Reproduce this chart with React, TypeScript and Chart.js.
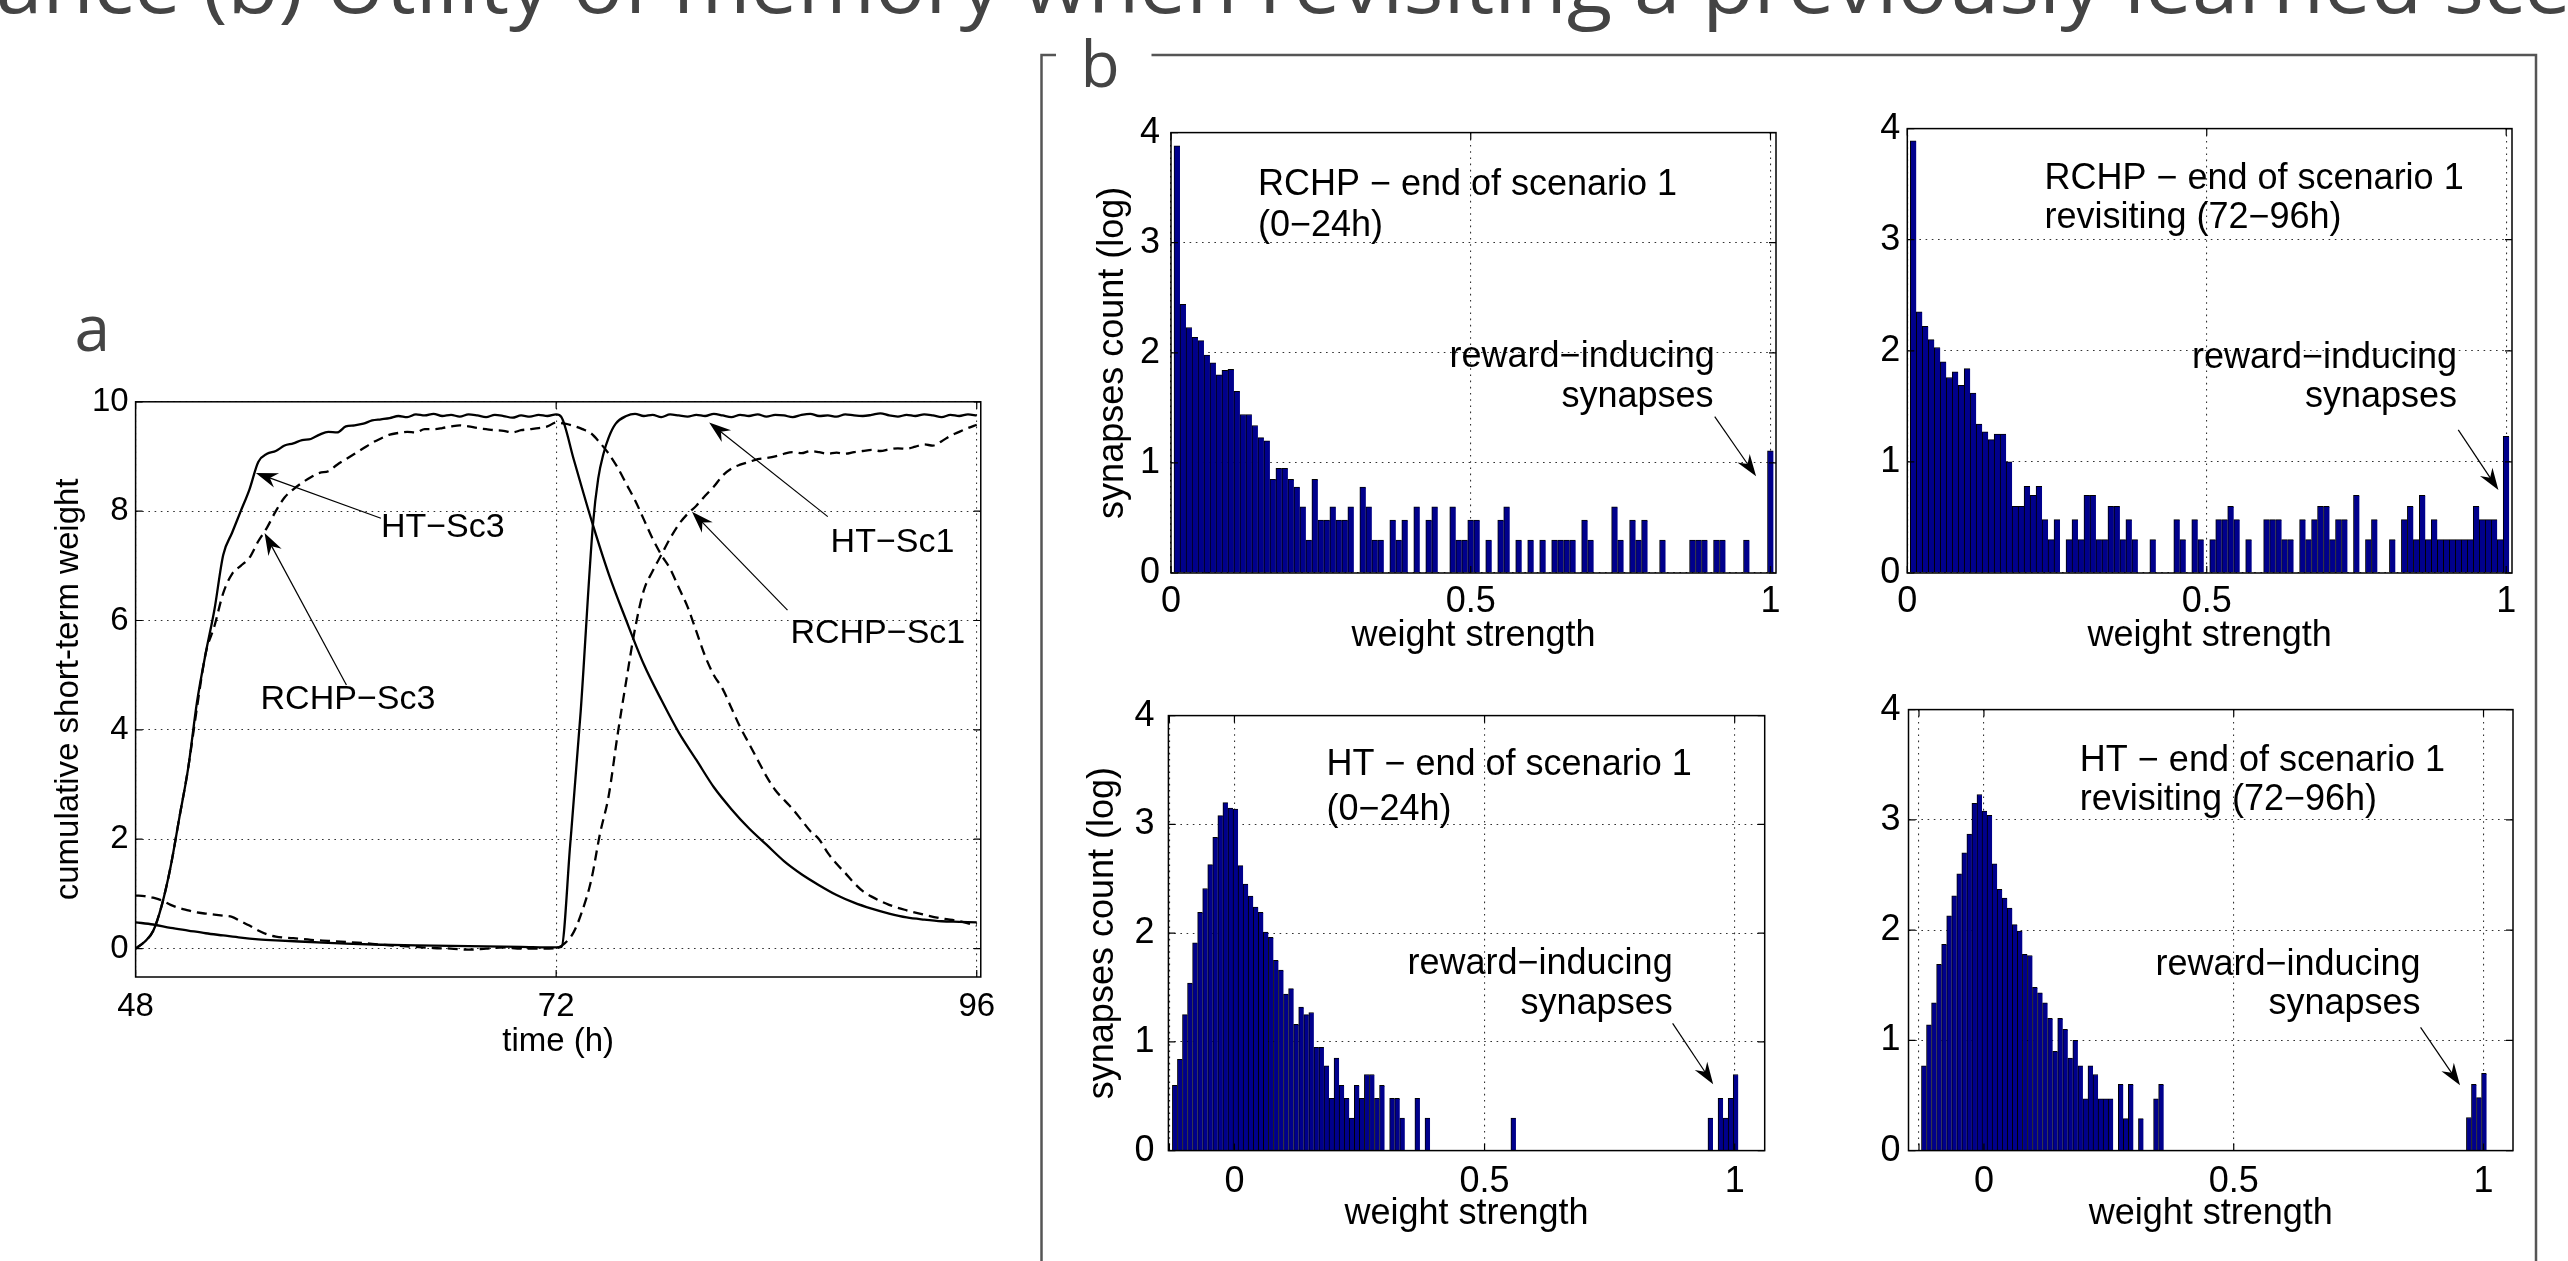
import React, { useEffect, useRef } from "react";
import { Chart, registerables } from "chart.js";

Chart.register(...registerables);

const AXIS_FONT = "'Liberation Sans', Arial, Helvetica, sans-serif";
const CAPTION_FONT = "'Open Sans', 'DejaVu Sans', sans-serif";
const GRID_COLOR = "#333333";
const BAR_FILL = "#00008c";

// ---------------- panel a : cumulative short-term weight ----------------
const timeTicks = [48, 72, 96];
const timeLabels = ["48", "72", "96"];
const weightTicks = [0, 2, 4, 6, 8, 10];
const weightLabels = ["0", "2", "4", "6", "8", "10"];

const htSc3 = [
  [48, 0], [48.5, 0.12], [49, 0.32], [49.5, 0.8], [50, 1.5], [50.5, 2.4], [51, 3.3], [51.5, 4.5],
  [52, 5.4], [52.5, 6.2], [53, 7.2], [53.5, 7.6], [54, 8.0], [54.5, 8.4], [55, 8.9], [55.5, 9.05],
  [56, 9.1], [56.5, 9.2], [57, 9.24], [57.5, 9.3], [58, 9.32], [58.5, 9.4], [59, 9.45], [59.5, 9.44],
  [60, 9.55], [60.5, 9.57], [61, 9.6], [61.5, 9.66], [62, 9.68], [62.5, 9.7], [63, 9.74], [63.5, 9.72],
  [64, 9.77], [64.5, 9.75], [65, 9.78], [65.5, 9.74], [66, 9.76], [66.5, 9.73], [67, 9.77], [67.5, 9.75],
  [68, 9.72], [68.5, 9.76], [69, 9.74], [69.5, 9.71], [70, 9.75], [70.5, 9.73], [71, 9.76], [71.5, 9.74],
  [72, 9.77], [72.3, 9.72], [73, 8.95], [74, 7.85], [75, 6.85], [76, 6.0], [77, 5.2], [78, 4.55],
  [79, 3.95], [80, 3.45], [81, 2.95], [82, 2.55], [83, 2.2], [84, 1.9], [85, 1.6], [86, 1.36],
  [87, 1.16], [88, 0.98], [89, 0.84], [90, 0.73], [91, 0.64], [92, 0.57], [93, 0.53], [94, 0.5],
  [95, 0.49], [96, 0.48],
];

const htSc1 = [
  [48, 0.48], [49, 0.44], [50, 0.38], [51, 0.33], [52, 0.28], [53, 0.24], [54, 0.2], [55, 0.17],
  [56, 0.15], [58, 0.12], [60, 0.09], [62, 0.07], [64, 0.06], [66, 0.05], [68, 0.04], [70, 0.03],
  [72, 0.02], [72.3, 0.03], [72.8, 1.9], [73.4, 4.34], [74.1, 7.76], [74.4, 8.6], [74.7, 9.05], [75, 9.35],
  [75.4, 9.6], [76, 9.74], [76.5, 9.78], [77, 9.74], [77.5, 9.76], [78, 9.72], [78.5, 9.77], [79, 9.75],
  [79.5, 9.73], [80, 9.76], [80.5, 9.74], [81, 9.78], [81.5, 9.75], [82, 9.72], [82.5, 9.76], [83, 9.74],
  [83.5, 9.77], [84, 9.73], [84.5, 9.76], [85, 9.75], [85.5, 9.72], [86, 9.76], [86.5, 9.78], [87, 9.74],
  [87.5, 9.75], [88, 9.73], [88.5, 9.77], [89, 9.75], [89.5, 9.74], [90, 9.76], [90.5, 9.79], [91, 9.75],
  [91.5, 9.73], [92, 9.76], [92.5, 9.74], [93, 9.77], [93.5, 9.75], [94, 9.72], [94.5, 9.76], [95, 9.74],
  [95.5, 9.77], [96, 9.75],
];

const rchpSc3 = [
  [48, 0], [48.5, 0.12], [49, 0.32], [49.5, 0.8], [50, 1.5], [50.5, 2.4], [51, 3.3], [51.5, 4.4],
  [52, 5.4], [52.5, 5.9], [53, 6.5], [53.5, 6.85], [54, 7.0], [54.5, 7.15], [55, 7.45], [55.5, 7.7],
  [56, 8.0], [56.5, 8.25], [57, 8.4], [57.5, 8.52], [58, 8.62], [58.5, 8.7], [59, 8.73], [59.5, 8.85],
  [60, 8.95], [60.5, 9.05], [61, 9.15], [61.5, 9.25], [62, 9.33], [62.5, 9.4], [63, 9.43], [63.5, 9.45],
  [64, 9.44], [64.5, 9.5], [65, 9.5], [65.5, 9.52], [66, 9.55], [66.5, 9.57], [67, 9.55], [67.5, 9.52],
  [68, 9.5], [68.5, 9.48], [69, 9.47], [69.5, 9.44], [70, 9.48], [70.5, 9.5], [71, 9.52], [71.5, 9.55],
  [72, 9.62], [72.5, 9.6], [73, 9.56], [73.5, 9.5], [74, 9.42], [74.5, 9.25], [75, 9.05], [75.5, 8.8],
  [76, 8.5], [76.5, 8.2], [77, 7.85], [77.5, 7.5], [78, 7.2], [78.5, 6.95], [79, 6.6], [79.5, 6.25],
  [80, 5.8], [80.5, 5.35], [81, 5.0], [81.5, 4.75], [82, 4.4], [82.5, 4.05], [83, 3.75], [83.5, 3.45],
  [84, 3.15], [84.5, 2.9], [85, 2.72], [85.5, 2.55], [86, 2.35], [86.5, 2.15], [87, 2.0], [87.5, 1.75],
  [88, 1.55], [88.5, 1.38], [89, 1.2], [89.5, 1.05], [90, 0.95], [91, 0.8], [92, 0.7], [93, 0.62],
  [94, 0.55], [95, 0.5], [96, 0.42],
];

const rchpSc1 = [
  [48, 0.97], [48.5, 0.96], [49, 0.93], [49.5, 0.88], [50, 0.8], [50.5, 0.74], [51, 0.7], [51.5, 0.66],
  [52, 0.64], [52.5, 0.62], [53, 0.6], [53.5, 0.58], [54, 0.5], [54.5, 0.42], [55, 0.33], [55.5, 0.26],
  [56, 0.22], [57, 0.19], [58, 0.16], [59, 0.14], [60, 0.12], [61, 0.1], [62, 0.07], [63, 0.05],
  [64, 0.03], [65, 0.01], [66, 0.0], [67, -0.02], [68, 0.0], [69, 0.02], [70, 0.0], [71, 0.0],
  [72, 0.01], [72.5, 0.1], [73, 0.3], [73.5, 0.7], [74, 1.25], [74.5, 2.1], [75, 2.8], [75.5, 3.9],
  [76, 4.9], [76.5, 5.85], [77, 6.55], [77.5, 6.9], [78, 7.2], [78.5, 7.5], [79, 7.76], [79.5, 7.95],
  [80, 8.1], [80.5, 8.28], [81, 8.45], [81.5, 8.65], [82, 8.78], [82.5, 8.85], [83, 8.9], [83.5, 8.95],
  [84, 8.97], [84.5, 9.0], [85, 9.05], [85.5, 9.08], [86, 9.06], [86.5, 9.1], [87, 9.08], [87.5, 9.05],
  [88, 9.07], [88.5, 9.05], [89, 9.08], [89.5, 9.1], [90, 9.12], [90.5, 9.1], [91, 9.13], [91.5, 9.15],
  [92, 9.14], [92.5, 9.18], [93, 9.22], [93.5, 9.2], [94, 9.28], [94.5, 9.38], [95, 9.45], [95.5, 9.52],
  [96, 9.58],
];

// ---------------- panel b : weight histograms (log10 counts) ----------------
const countTicks = [0, 1, 2, 3, 4];
const countLabels = ["0", "1", "2", "3", "4"];
const strengthTicksTop = [0, 0.5, 1];
const strengthLabelsTop = ["0", "0.5", "1"];
const strengthTicksBottom = [-0.13, 0, 0.5, 1];
const strengthLabelsBottom = ["", "0", "0.5", "1"];

const topBinFirst = 0.01;
const topBinStep = 0.01;
const htEarlyBinFirst = -0.119;
const htRevisitBinFirst = -0.12;
const bottomBinStep = 0.0101;

const rchpEarlyCounts = [
  3.88, 2.44, 2.23, 2.14, 2.11, 1.98, 1.91, 1.80, 1.84, 1.85,
  1.65, 1.44, 1.44, 1.34, 1.23, 1.20, 0.85, 0.95, 0.95, 0.85,
  0.78, 0.60, 0.30, 0.85, 0.48, 0.48, 0.60, 0.48, 0.48, 0.60,
  0, 0.78, 0.60, 0.30, 0.30, 0, 0.48, 0.30, 0.48, 0,
  0.60, 0, 0.48, 0.60, 0, 0, 0.60, 0.30, 0.30, 0.48,
  0.48, 0, 0.30, 0, 0.48, 0.60, 0, 0.30, 0, 0.30,
  0, 0.30, 0, 0.30, 0.30, 0.30, 0.30, 0, 0.48, 0.30,
  0, 0, 0, 0.60, 0.30, 0, 0.48, 0.30, 0.48, 0,
  0, 0.30, 0, 0, 0, 0, 0.30, 0.30, 0.30, 0,
  0.30, 0.30, 0, 0, 0, 0.30, 0, 0, 0, 1.11,
];

const rchpRevisitCounts = [
  3.89, 2.35, 2.22, 2.10, 2.03, 1.90, 1.76, 1.81, 1.69, 1.84,
  1.62, 1.34, 1.27, 1.20, 1.25, 1.25, 1.00, 0.60, 0.60, 0.78,
  0.70, 0.78, 0.48, 0.30, 0.48, 0, 0.30, 0.48, 0.30, 0.70,
  0.70, 0.30, 0.30, 0.60, 0.60, 0.30, 0.48, 0.30, 0, 0,
  0.30, 0, 0, 0, 0.48, 0.30, 0, 0.48, 0.30, 0,
  0.30, 0.48, 0.48, 0.60, 0.48, 0, 0.30, 0, 0, 0.48,
  0.48, 0.48, 0.30, 0.30, 0, 0.48, 0.30, 0.48, 0.60, 0.60,
  0.30, 0.48, 0.48, 0, 0.70, 0, 0.30, 0.48, 0, 0,
  0.30, 0, 0.48, 0.60, 0.30, 0.70, 0.30, 0.48, 0.30, 0.30,
  0.30, 0.30, 0.30, 0.30, 0.60, 0.48, 0.48, 0.48, 0.30, 1.23,
];

const htEarlyCounts = [
  0.60, 0.84, 1.25, 1.54, 1.91, 2.19, 2.41, 2.63, 2.88, 3.08,
  3.20, 3.15, 3.14, 2.62, 2.45, 2.34, 2.24, 2.19, 2.01, 1.96,
  1.75, 1.66, 1.44, 1.49, 1.16, 1.32, 1.25, 1.27, 0.95, 0.95,
  0.78, 0.48, 0.85, 0.60, 0.48, 0.30, 0.60, 0.48, 0.70, 0.70,
  0.48, 0.60, 0, 0.48, 0.48, 0.30, 0, 0, 0.48, 0,
  0.30, 0, 0, 0, 0, 0, 0, 0, 0, 0,
  0, 0, 0, 0, 0, 0, 0, 0.30, 0, 0,
  0, 0, 0, 0, 0, 0, 0, 0, 0, 0,
  0, 0, 0, 0, 0, 0, 0, 0, 0, 0,
  0, 0, 0, 0, 0, 0, 0, 0, 0, 0,
  0, 0, 0, 0, 0, 0, 0.30, 0, 0.48, 0.30,
  0.48, 0.70,
];

const htRevisitCounts = [
  0.77, 1.14, 1.34, 1.69, 1.87, 2.13, 2.31, 2.51, 2.70, 2.87,
  3.15, 3.23, 3.08, 3.04, 2.60, 2.37, 2.29, 2.20, 2.05, 1.99,
  1.78, 1.77, 1.48, 1.43, 1.34, 1.20, 0.90, 1.20, 1.10, 0.84,
  1.00, 0.77, 0.47, 0.77, 0.69, 0.47, 0.47, 0.47, 0, 0.60,
  0.29, 0.60, 0, 0.29, 0, 0, 0.47, 0.60, 0, 0,
  0, 0, 0, 0, 0, 0, 0, 0, 0, 0,
  0, 0, 0, 0, 0, 0, 0, 0, 0, 0,
  0, 0, 0, 0, 0, 0, 0, 0, 0, 0,
  0, 0, 0, 0, 0, 0, 0, 0, 0, 0,
  0, 0, 0, 0, 0, 0, 0, 0, 0, 0,
  0, 0, 0, 0, 0, 0, 0, 0, 0.30, 0.60,
  0.48, 0.70,
];

// ---------------- annotations ----------------
const panelANotes = [
  { x: 62.0, y: 7.53, text: "HT−Sc3", align: "left" },
  { x: 55.13, y: 4.39, text: "RCHP−Sc3", align: "left" },
  { x: 87.66, y: 7.25, text: "HT−Sc1", align: "left" },
  { x: 85.37, y: 5.59, text: "RCHP−Sc1", align: "left" },
];
const panelAArrows = [
  { x1: 62.0, y1: 7.87, x2: 54.86, y2: 8.7 },
  { x1: 60.03, y1: 4.82, x2: 55.36, y2: 7.6 },
  { x1: 87.5, y1: 7.9, x2: 80.73, y2: 9.62 },
  { x1: 85.2, y1: 6.19, x2: 79.75, y2: 7.99 },
];

const tlNotes = [
  { x: 0.145, y: 3.436, text: "RCHP − end of scenario 1", align: "left" },
  { x: 0.145, y: 3.063, text: "(0−24h)", align: "left" },
  { x: 0.907, y: 1.875, text: "reward−inducing", align: "right" },
  { x: 0.905, y: 1.508, text: "synapses", align: "right" },
];
const tlArrows = [{ x1: 0.907, y1: 1.42, x2: 0.976, y2: 0.878 }];

const trNotes = [
  { x: 0.229, y: 3.46, text: "RCHP − end of scenario 1", align: "left" },
  { x: 0.229, y: 3.107, text: "revisiting (72−96h)", align: "left" },
  { x: 0.918, y: 1.846, text: "reward−inducing", align: "right" },
  { x: 0.918, y: 1.496, text: "synapses", align: "right" },
];
const trArrows = [{ x1: 0.92, y1: 1.288, x2: 0.987, y2: 0.746 }];

const blNotes = [
  { x: 0.184, y: 3.454, text: "HT − end of scenario 1", align: "left" },
  { x: 0.184, y: 3.04, text: "(0−24h)", align: "left" },
  { x: 0.876, y: 1.627, text: "reward−inducing", align: "right" },
  { x: 0.876, y: 1.254, text: "synapses", align: "right" },
];
const blArrows = [{ x1: 0.876, y1: 1.17, x2: 0.957, y2: 0.61 }];

const brNotes = [
  { x: 0.192, y: 3.44, text: "HT − end of scenario 1", align: "left" },
  { x: 0.192, y: 3.085, text: "revisiting (72−96h)", align: "left" },
  { x: 0.874, y: 1.592, text: "reward−inducing", align: "right" },
  { x: 0.874, y: 1.237, text: "synapses", align: "right" },
];
const brArrows = [{ x1: 0.874, y1: 1.118, x2: 0.953, y2: 0.593 }];

// ---------------- helpers ----------------
function drawArrow(ctx, x1, y1, x2, y2) {
  const headLen = 22;
  const headHalf = 7.5;
  const ang = Math.atan2(y2 - y1, x2 - x1);
  const c = Math.cos(ang);
  const s = Math.sin(ang);
  ctx.lineWidth = 1.2;
  ctx.strokeStyle = "#000";
  ctx.setLineDash([]);
  ctx.beginPath();
  ctx.moveTo(x1, y1);
  ctx.lineTo(x2 - c * headLen * 0.6, y2 - s * headLen * 0.6);
  ctx.stroke();
  const bx = x2 - c * headLen;
  const by = y2 - s * headLen;
  ctx.beginPath();
  ctx.moveTo(x2, y2);
  ctx.lineTo(bx - s * headHalf, by + c * headHalf);
  ctx.lineTo(x2 - c * headLen * 0.68, y2 - s * headLen * 0.68);
  ctx.lineTo(bx + s * headHalf, by - c * headHalf);
  ctx.closePath();
  ctx.fillStyle = "#000";
  ctx.fill();
}

function annotPlugin(notes, arrows, fontSize) {
  return {
    id: "annot",
    afterDatasetsDraw(chart) {
      const { ctx } = chart;
      const xs = chart.scales.x;
      const ys = chart.scales.y;
      ctx.save();
      ctx.font = `${fontSize}px ${AXIS_FONT}`;
      ctx.fillStyle = "#000";
      ctx.textBaseline = "alphabetic";
      notes.forEach((n) => {
        ctx.textAlign = n.align;
        ctx.fillText(n.text, xs.getPixelForValue(n.x), ys.getPixelForValue(n.y));
      });
      arrows.forEach((a) => {
        drawArrow(
          ctx,
          xs.getPixelForValue(a.x1),
          ys.getPixelForValue(a.y1),
          xs.getPixelForValue(a.x2),
          ys.getPixelForValue(a.y2)
        );
      });
      ctx.restore();
    },
  };
}

const frameTicks = {
  id: "frameTicks",
  afterDraw(chart) {
    const { ctx, chartArea: a } = chart;
    const xs = chart.scales.x;
    const ys = chart.scales.y;
    const L = 7;
    ctx.save();
    ctx.setLineDash([]);
    ctx.strokeStyle = "#000";
    ctx.lineWidth = 1.5;
    ctx.strokeRect(a.left, a.top, a.right - a.left, a.bottom - a.top);
    ctx.lineWidth = 1.2;
    ctx.beginPath();
    xs.ticks.forEach((t) => {
      const px = xs.getPixelForValue(t.value);
      ctx.moveTo(px, a.bottom);
      ctx.lineTo(px, a.bottom - L);
      ctx.moveTo(px, a.top);
      ctx.lineTo(px, a.top + L);
    });
    ys.ticks.forEach((t) => {
      const py = ys.getPixelForValue(t.value);
      ctx.moveTo(a.left, py);
      ctx.lineTo(a.left + L, py);
      ctx.moveTo(a.right, py);
      ctx.lineTo(a.right - L, py);
    });
    ctx.stroke();
    ctx.restore();
  },
};

function axis(o) {
  const horizontal = o.pos === "bottom";
  return {
    type: "linear",
    position: o.pos,
    bounds: "data",
    offset: false,
    min: o.min,
    max: o.max,
    afterBuildTicks: (s) => {
      s.ticks = o.ticks.map((v) => ({ value: v }));
    },
    afterFit: (s) => {
      if (horizontal) s.height = o.size;
      else s.width = o.size;
    },
    ticks: {
      color: "#000",
      font: { family: AXIS_FONT, size: o.font },
      padding: o.tickPad,
      autoSkip: false,
      maxRotation: 0,
      minRotation: 0,
      callback: (_v, i) => o.labels[i],
    },
    grid: { color: GRID_COLOR, lineWidth: 1.1, drawTicks: false, offset: false },
    border: { display: false, dash: [1.6, 4.6] },
    title: o.title
      ? {
          display: true,
          text: o.title,
          color: "#000",
          font: { family: AXIS_FONT, size: o.font },
          padding: horizontal ? { top: 0, bottom: o.titlePad } : { top: o.titlePad, bottom: 0 },
        }
      : { display: false },
  };
}

const baseOptions = {
  responsive: false,
  maintainAspectRatio: false,
  animation: false,
  devicePixelRatio: 1,
  events: [],
  plugins: { legend: { display: false }, tooltip: { enabled: false }, title: { display: false } },
};

function lineSet(points, dash) {
  return {
    data: points.map(([x, y]) => ({ x, y })),
    borderColor: "#000",
    borderWidth: 2.3,
    borderDash: dash,
    pointRadius: 0,
    fill: false,
    cubicInterpolationMode: "monotone",
  };
}

function panelAConfig() {
  return {
    type: "line",
    data: {
      datasets: [
        lineSet(htSc3, []),
        lineSet(htSc1, []),
        lineSet(rchpSc3, [10, 6]),
        lineSet(rchpSc1, [10, 6]),
      ],
    },
    options: {
      ...baseOptions,
      layout: { padding: { top: 20.4, right: 22.7, left: 0, bottom: 0 }, autoPadding: false },
      scales: {
        x: axis({ pos: "bottom", min: 48, max: 96.23, ticks: timeTicks, labels: timeLabels, size: 98, font: 33, tickPad: 9.8, title: "time (h)", titlePad: 13.2 }),
        y: axis({ pos: "left", min: -0.52, max: 10, ticks: weightTicks, labels: weightLabels, size: 95.6, font: 33, tickPad: 7, title: "cumulative short-term weight", titlePad: 9.2 }),
      },
    },
    plugins: [frameTicks, annotPlugin(panelANotes, panelAArrows, 34)],
  };
}

function bins(first, step, counts) {
  return counts.map((c, i) => ({ x: first + i * step, y: c }));
}

function histConfig(p) {
  return {
    type: "bar",
    data: {
      datasets: [
        {
          data: bins(p.first, p.step, p.counts),
          backgroundColor: BAR_FILL,
          borderColor: "#000",
          borderWidth: { top: 1, left: 1, right: 0, bottom: 0 },
          borderSkipped: "start",
          barPercentage: 1,
          categoryPercentage: 1,
        },
      ],
    },
    options: {
      ...baseOptions,
      layout: { padding: { top: p.padTop, right: p.padRight, left: 0, bottom: 0 }, autoPadding: false },
      scales: {
        x: axis({ pos: "bottom", min: p.xmin, max: p.xmax, ticks: p.xticks, labels: p.xlabels, size: p.xSize, font: 36, tickPad: p.xTickPad, title: "weight strength", titlePad: p.xTitlePad }),
        y: axis({ pos: "left", min: 0, max: 4, ticks: countTicks, labels: countLabels, size: p.ySize, font: 36, tickPad: p.yTickPad, title: p.yTitle, titlePad: p.yTitlePad }),
      },
    },
    plugins: [frameTicks, annotPlugin(p.notes, p.arrows, 36)],
  };
}

const charts = [
  { key: "a", left: 40, top: 375, width: 965, height: 700, make: panelAConfig },
  {
    key: "tl", left: 1085, top: 100, width: 710, height: 565,
    make: () => histConfig({
      first: topBinFirst, step: topBinStep, counts: rchpEarlyCounts,
      padTop: 18.6, padRight: 19, xmin: 0, xmax: 1.0092, xticks: strengthTicksTop, xlabels: strengthLabelsTop,
      xSize: 92, xTickPad: 7, xTitlePad: 7.4, ySize: 86, yTickPad: 11, yTitle: "synapses count (log)", yTitlePad: 6.1,
      notes: tlNotes, arrows: tlArrows,
    }),
  },
  {
    key: "tr", left: 1855, top: 100, width: 675, height: 565,
    make: () => histConfig({
      first: topBinFirst, step: topBinStep, counts: rchpRevisitCounts,
      padTop: 18.6, padRight: 18, xmin: 0, xmax: 1.0097, xticks: strengthTicksTop, xlabels: strengthLabelsTop,
      xSize: 92, xTickPad: 7, xTitlePad: 7.4, ySize: 52.3, yTickPad: 7, yTitle: null, yTitlePad: 0,
      notes: trNotes, arrows: trArrows,
    }),
  },
  {
    key: "bl", left: 1075, top: 680, width: 710, height: 570,
    make: () => histConfig({
      first: htEarlyBinFirst, step: bottomBinStep, counts: htEarlyCounts,
      padTop: 18.3, padRight: 20.3, xmin: -0.132, xmax: 1.06, xticks: strengthTicksBottom, xlabels: strengthLabelsBottom,
      xSize: 99.4, xTickPad: 10.3, xTitlePad: 14.4, ySize: 93.4, yTickPad: 14, yTitle: "synapses count (log)", yTitlePad: 6.4,
      notes: blNotes, arrows: blArrows,
    }),
  },
  {
    key: "br", left: 1855, top: 680, width: 675, height: 570,
    make: () => histConfig({
      first: htRevisitBinFirst, step: bottomBinStep, counts: htRevisitCounts,
      padTop: 18.3, padRight: 17, xmin: -0.151, xmax: 1.059, xticks: strengthTicksBottom, xlabels: strengthLabelsBottom,
      xSize: 99.4, xTickPad: 10.3, xTitlePad: 14.4, ySize: 53.5, yTickPad: 8, yTitle: null, yTitlePad: 0,
      notes: brNotes, arrows: brArrows,
    }),
  },
];

function ChartCanvas({ spec }) {
  const ref = useRef(null);
  useEffect(() => {
    const chart = new Chart(ref.current, spec.make());
    return () => chart.destroy();
  }, []);
  return (
    <canvas
      ref={ref}
      width={spec.width}
      height={spec.height}
      style={{ position: "absolute", left: spec.left, top: spec.top, width: spec.width, height: spec.height }}
    />
  );
}

export default function App() {
  return (
    <div style={{ position: "absolute", left: 0, top: 0, width: 2568, height: 1261, overflow: "hidden", background: "#fff" }}>
      <svg width={2568} height={1261} style={{ position: "absolute", left: 0, top: 0 }}>
        <text
          x={-4}
          y={13}
          fontFamily={CAPTION_FONT}
          fontSize={78}
          fill="#444"
          textLength={2575}
          lengthAdjust="spacingAndGlyphs"
        >
          ance (b) Utility of memory when revisiting a previously learned sce
        </text>
        <text x={74.6} y={351} fontFamily={CAPTION_FONT} fontSize={64} fill="#444">a</text>
        <text x={1080.6} y={87} fontFamily={CAPTION_FONT} fontSize={64} fill="#444">b</text>
        <polyline points="1056,55 1041.5,55 1041.5,1261" stroke="#555" strokeWidth={2.5} fill="none" />
        <polyline points="1151.5,55 2536,55 2536,1261" stroke="#555" strokeWidth={2.5} fill="none" />
      </svg>
      {charts.map((c) => (
        <ChartCanvas key={c.key} spec={c} />
      ))}
    </div>
  );
}
